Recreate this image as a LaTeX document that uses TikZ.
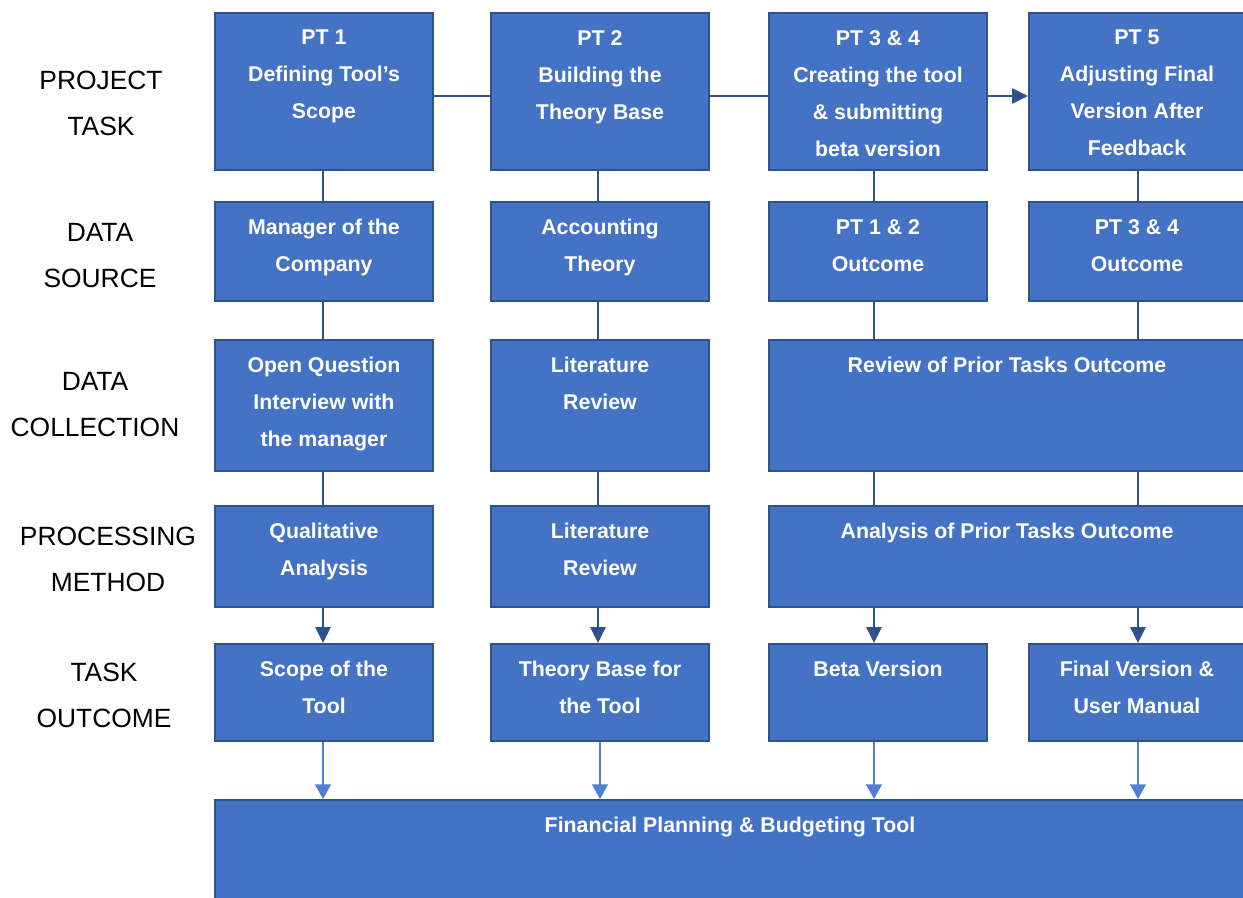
\documentclass[tikz,border=0pt]{standalone}
\usepackage{fontspec}
\setmainfont{Liberation Sans}
\usetikzlibrary{fit,calc,arrows.meta}
\definecolor{bfill}{HTML}{4472C4}
\definecolor{bline}{HTML}{2F528F}
\definecolor{alight}{HTML}{4F7FD0}
\tikzset{
  box/.style={draw=bline, fill=bfill, line width=1.5pt, inner sep=0pt, rectangle},
  btxt/.style={text=white, font=\bfseries\fontsize{16}{27.75}\selectfont, align=center, inner sep=0pt},
  rowlab/.style={text=black, font=\fontsize{19.8}{34.5}\selectfont, align=center, inner sep=0pt},
  conn/.style={draw=bline, line width=1.5pt},
  darrow/.style={draw=bline, line width=1.5pt, -{Triangle[length=12pt,width=11.5pt]}},
  larrow/.style={draw=alight, line width=1.1pt, -{Triangle[length=11pt,width=12pt]}}
}
\begin{document}
\begin{tikzpicture}[x=0.75pt,y=-0.75pt]
\useasboundingbox (0,0) rectangle (1243,898);
% row labels
\node[rowlab, anchor=north] (l1) at (101,71) {PROJECT\\TASK};
\node[rowlab, anchor=north] (l2) at (100,223) {DATA\\SOURCE};
\node[rowlab, anchor=north] (l3) at (95,372) {DATA\\COLLECTION};
\node[rowlab, anchor=north] (l4) at (108,527) {PROCESSING\\METHOD};
\node[rowlab, anchor=north] (l5) at (104,663) {TASK\\OUTCOME};
% row 1
\node[box, fit={(215,13)(433,170)}] (p1) {};
\node[box, fit={(491,13)(709,170)}] (p2) {};
\node[box, fit={(769,13)(987,170)}] (p3) {};
\node[box, fit={(1029,13)(1245,170)}] (p5) {};
% row 2
\node[box, fit={(215,202)(433,301)}] (s1) {};
\node[box, fit={(491,202)(709,301)}] (s2) {};
\node[box, fit={(769,202)(987,301)}] (s3) {};
\node[box, fit={(1029,202)(1245,301)}] (s4) {};
% row 3
\node[box, fit={(215,340)(433,471)}] (c1) {};
\node[box, fit={(491,340)(709,471)}] (c2) {};
\node[box, fit={(769,340)(1245,471)}] (c3) {};
% row 4
\node[box, fit={(215,506)(433,607)}] (m1) {};
\node[box, fit={(491,506)(709,607)}] (m2) {};
\node[box, fit={(769,506)(1245,607)}] (m3) {};
% row 5
\node[box, fit={(215,644)(433,741)}] (o1) {};
\node[box, fit={(491,644)(709,741)}] (o2) {};
\node[box, fit={(769,644)(987,741)}] (o3) {};
\node[box, fit={(1029,644)(1245,741)}] (o4) {};
% row 6
\node[box, fit={(215,800)(1245,905)}] (f) {};
% texts
\node[btxt, anchor=north] (p1t) at ($(p1.north)+(0,18)$) {PT 1\\Defining Tool’s\\Scope};
\node[btxt, anchor=north] (p2t) at ($(p2.north)+(0,18)$) {PT 2\\Building the\\Theory Base};
\node[btxt, anchor=north] (p3t) at ($(p3.north)+(0,18)$) {PT 3 \& 4\\Creating the tool\\\& submitting\\beta version};
\node[btxt, anchor=north] (p5t) at ($(p5.north)+(0,18)$) {PT 5\\Adjusting Final\\Version After\\Feedback};
\node[btxt, anchor=north] (s1t) at ($(s1.north)+(0,18)$) {Manager of the\\Company};
\node[btxt, anchor=north] (s2t) at ($(s2.north)+(0,18)$) {Accounting\\Theory};
\node[btxt, anchor=north] (s3t) at ($(s3.north)+(0,18)$) {PT 1 \& 2\\Outcome};
\node[btxt, anchor=north] (s4t) at ($(s4.north)+(0,18)$) {PT 3 \& 4\\Outcome};
\node[btxt, anchor=north] (c1t) at ($(c1.north)+(0,18)$) {Open Question\\Interview with\\the manager};
\node[btxt, anchor=north] (c2t) at ($(c2.north)+(0,18)$) {Literature\\Review};
\node[btxt, anchor=north] (c3t) at ($(c3.north)+(0,18)$) {Review of Prior Tasks Outcome};
\node[btxt, anchor=north] (m1t) at ($(m1.north)+(0,18)$) {Qualitative\\Analysis};
\node[btxt, anchor=north] (m2t) at ($(m2.north)+(0,18)$) {Literature\\Review};
\node[btxt, anchor=north] (m3t) at ($(m3.north)+(0,18)$) {Analysis of Prior Tasks Outcome};
\node[btxt, anchor=north] (o1t) at ($(o1.north)+(0,18)$) {Scope of the\\Tool};
\node[btxt, anchor=north] (o2t) at ($(o2.north)+(0,18)$) {Theory Base for\\the Tool};
\node[btxt, anchor=north] (o3t) at ($(o3.north)+(0,18)$) {Beta Version};
\node[btxt, anchor=north] (o4t) at ($(o4.north)+(0,18)$) {Final Version \&\\User Manual};
\node[btxt, anchor=north] (ft) at ($(f.north)+(0,18)$) {Financial Planning \& Budgeting Tool};
% horizontal connectors
\coordinate (h1) at ($(p1.east)+(0,4.5)$);
\coordinate (h2) at ($(p2.east)+(0,4.5)$);
\coordinate (h3) at ($(p3.east)+(0,4.5)$);
\draw[conn] (h1) -- (h1 -| p2.west);
\draw[conn] (h2) -- (h2 -| p3.west);
\draw[darrow] (h3) -- (h3 -| p5.west);
% column x positions
\coordinate (x1) at (323,0);
\coordinate (x2) at (598,0);
\coordinate (x3) at (874,0);
\coordinate (x4) at (1138,0);
% vertical connectors col 1
\draw[conn] (x1 |- p1.south) -- (x1 |- s1.north);
\draw[conn] (x1 |- s1.south) -- (x1 |- c1.north);
\draw[conn] (x1 |- c1.south) -- (x1 |- m1.north);
\draw[darrow] (x1 |- m1.south) -- (x1 |- o1.north);
% col 2
\draw[conn] (x2 |- p2.south) -- (x2 |- s2.north);
\draw[conn] (x2 |- s2.south) -- (x2 |- c2.north);
\draw[conn] (x2 |- c2.south) -- (x2 |- m2.north);
\draw[darrow] (x2 |- m2.south) -- (x2 |- o2.north);
% col 3
\draw[conn] (x3 |- p3.south) -- (x3 |- s3.north);
\draw[conn] (x3 |- s3.south) -- (x3 |- c3.north);
\draw[conn] (x3 |- c3.south) -- (x3 |- m3.north);
\draw[darrow] (x3 |- m3.south) -- (x3 |- o3.north);
% col 4
\draw[conn] (x4 |- p5.south) -- (x4 |- s4.north);
\draw[conn] (x4 |- s4.south) -- (x4 |- c3.north);
\draw[conn] (x4 |- c3.south) -- (x4 |- m3.north);
\draw[darrow] (x4 |- m3.south) -- (x4 |- o4.north);
% outcome arrows
\draw[larrow] (x1 |- o1.south) -- (x1 |- f.north);
\draw[larrow] (600,0 |- o2.south) -- (600,0 |- f.north);
\draw[larrow] (x3 |- o3.south) -- (x3 |- f.north);
\draw[larrow] (x4 |- o4.south) -- (x4 |- f.north);
\end{tikzpicture}
\end{document}
